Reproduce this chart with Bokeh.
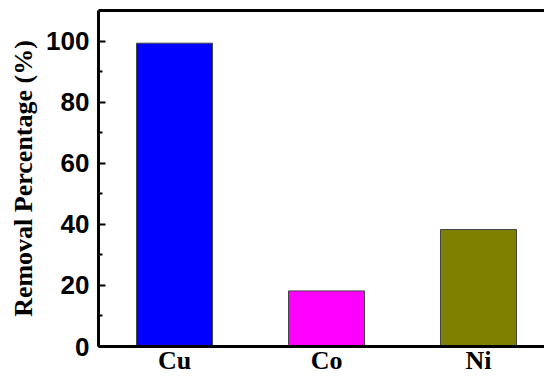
from bokeh.plotting import figure
from bokeh.models import ColumnDataSource, Range1d, LinearAxis, FixedTicker
from bokeh.embed import file_html
from bokeh.resources import INLINE

metals = ["Cu", "Co", "Ni"]
removal = [99.3, 18.2, 38.3]
colors = ["#0000FF", "#FF00FF", "#808000"]
y_ticks = [0, 20, 40, 60, 80, 100]
y_minor = [10, 30, 50, 70, 90]

positions = list(range(1, len(metals) + 1))
src = ColumnDataSource(dict(x=positions, metal=metals, removal=removal, color=colors))

p = figure(width=544, height=377, title=None,
           x_range=Range1d(0.5, 3.434), y_range=Range1d(0, 110),
           output_backend="svg", toolbar_location=None,
           min_border_left=98, min_border_right=0, min_border_top=10, min_border_bottom=30)
p.outline_line_color = None
p.grid.grid_line_color = None
p.background_fill_color = "white"
p.border_fill_color = "white"

p.vbar(x="x", top="removal", width=0.5, bottom=0, source=src,
       fill_color="color", line_color="#444444", line_width=1)

# y axis
ya = p.yaxis[0]
ya.ticker = FixedTicker(ticks=y_ticks, minor_ticks=y_minor)
ya.axis_line_width = 3
ya.major_tick_in = 7
ya.major_tick_out = 0
ya.minor_tick_in = 4
ya.minor_tick_out = 0
ya.major_tick_line_width = 2
ya.minor_tick_line_width = 2
ya.major_label_text_font = "Liberation Sans"
ya.major_label_text_font_style = "bold"
ya.major_label_text_font_size = "26px"
ya.major_label_text_color = "black"
ya.major_label_standoff = 9
ya.axis_label = "Removal Percentage (%)"
ya.axis_label_text_font = "Liberation Serif"
ya.axis_label_text_font_style = "bold"
ya.axis_label_text_font_size = "26px"
ya.axis_label_text_color = "black"
ya.axis_label_standoff = 5

# x axis
xa = p.xaxis[0]
xa.ticker = FixedTicker(ticks=positions, minor_ticks=[])
xa.major_label_overrides = {pos: m for pos, m in zip(positions, metals)}
xa.axis_line_width = 3
xa.major_tick_line_color = None
xa.minor_tick_line_color = None
xa.major_tick_in = 0
xa.major_tick_out = 0
xa.axis_label = None
xa.axis_label_standoff = 0
xa.major_label_text_font = "Liberation Serif"
xa.major_label_text_font_style = "bold"
xa.major_label_text_font_size = "26px"
xa.major_label_text_color = "black"
xa.major_label_standoff = -1

# top border line
top = LinearAxis(ticker=FixedTicker(ticks=[], minor_ticks=[]))
p.add_layout(top, "above")
top.axis_line_width = 3
top.axis_line_color = "black"
top.major_tick_line_color = None
top.minor_tick_line_color = None
top.major_tick_in = 0
top.major_tick_out = 0
top.major_label_text_font_size = "0px"
top.major_label_text_color = None
top.major_label_standoff = 0
top.axis_label = None
top.axis_label_standoff = 0

open("out.html", "w").write(file_html(p, INLINE))
